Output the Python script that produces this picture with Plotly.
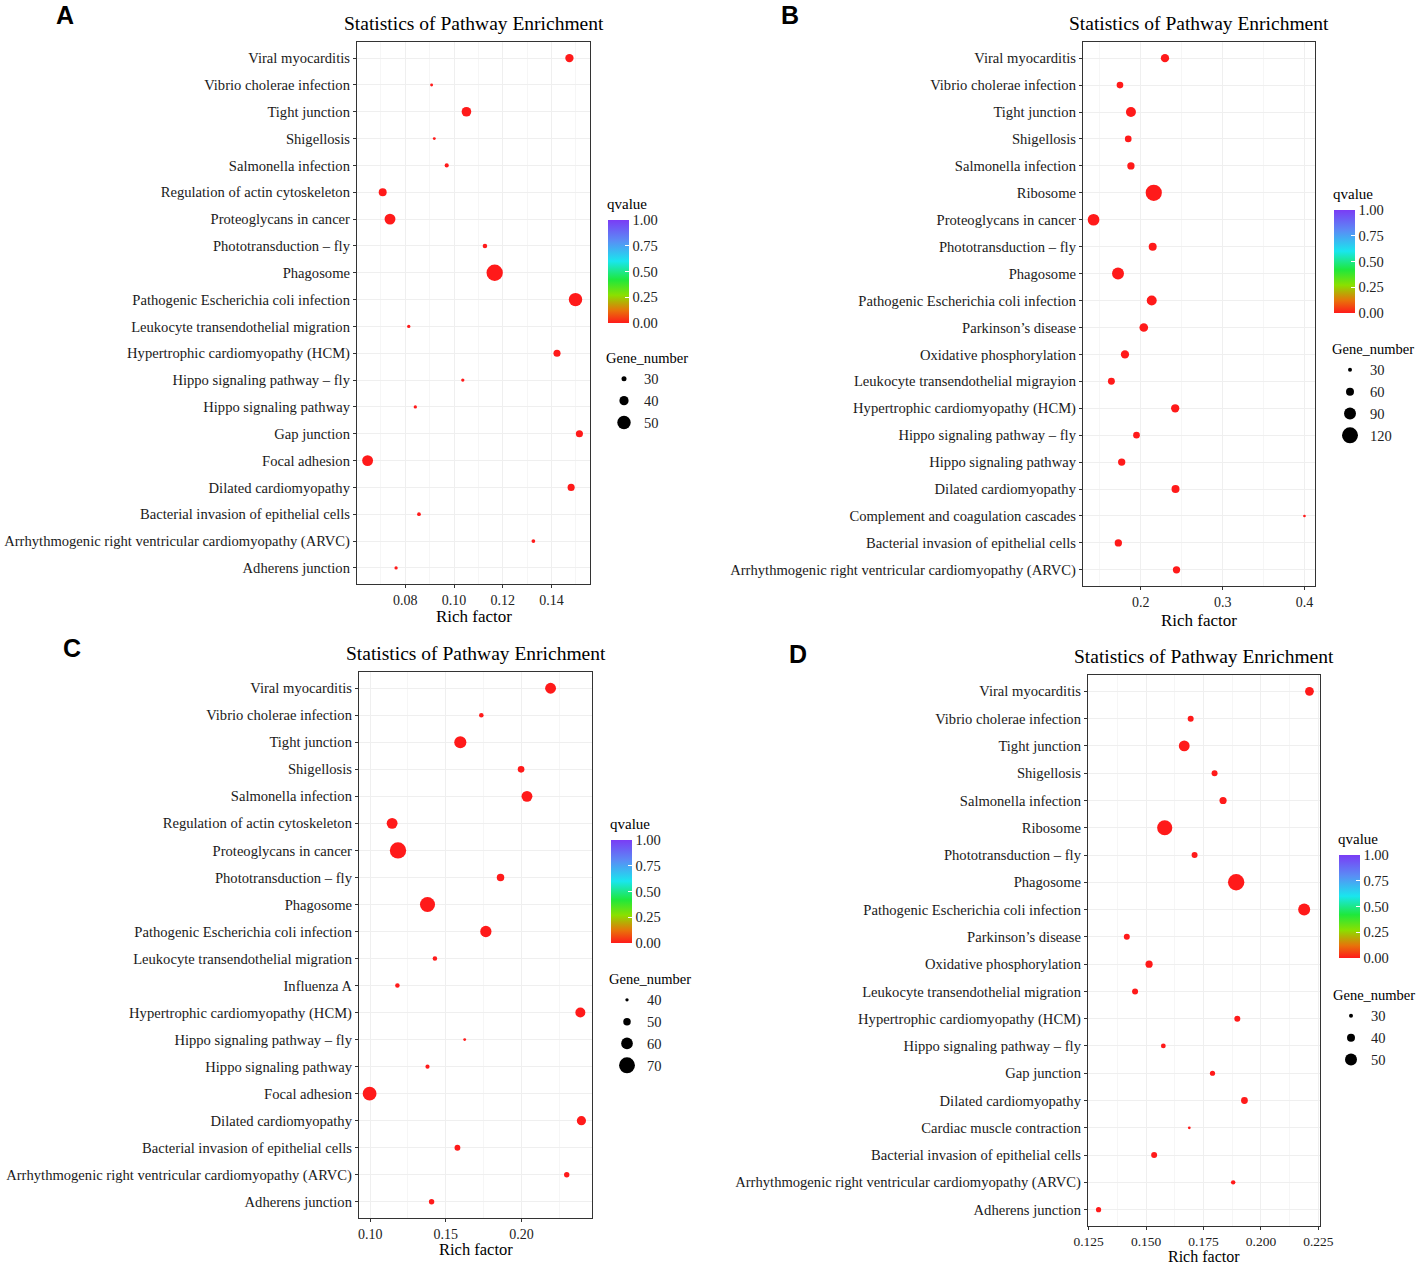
import plotly.graph_objects as go

W, H = 1417, 1262
FONT = "Liberation Serif"

# ---- panel A ----
a_pathway = ["Viral myocarditis", "Vibrio cholerae infection", "Tight junction", "Shigellosis",
             "Salmonella infection", "Regulation of actin cytoskeleton", "Proteoglycans in cancer",
             "Phototransduction \u2013 fly", "Phagosome", "Pathogenic Escherichia coli infection",
             "Leukocyte transendothelial migration", "Hypertrophic cardiomyopathy (HCM)",
             "Hippo signaling pathway \u2013 fly", "Hippo signaling pathway", "Gap junction",
             "Focal adhesion", "Dilated cardiomyopathy", "Bacterial invasion of epithelial cells",
             "Arrhythmogenic right ventricular cardiomyopathy (ARVC)", "Adherens junction"]
a_rich = [0.1474, 0.0908, 0.1051, 0.0919, 0.0970, 0.0707, 0.0737, 0.1127, 0.1167, 0.1499,
          0.0814, 0.1423, 0.1036, 0.0841, 0.1515, 0.0645, 0.1481, 0.0856, 0.1326, 0.0762]
a_genes = [38, 25, 41, 25, 28, 37, 44, 29, 57, 50, 26, 35, 26, 26, 35, 44, 35, 27, 27, 26]
a_q = [0.0] * 20
a_legend = [30, 40, 50]

# ---- panel B ----
b_pathway = ["Viral myocarditis", "Vibrio cholerae infection", "Tight junction", "Shigellosis",
             "Salmonella infection", "Ribosome", "Proteoglycans in cancer",
             "Phototransduction \u2013 fly", "Phagosome", "Pathogenic Escherichia coli infection",
             "Parkinson\u2019s disease", "Oxidative phosphorylation",
             "Leukocyte transendothelial migrayion", "Hypertrophic cardiomyopathy (HCM)",
             "Hippo signaling pathway \u2013 fly", "Hippo signaling pathway", "Dilated cardiomyopathy",
             "Complement and coagulation cascades", "Bacterial invasion of epithelial cells",
             "Arrhythmogenic right ventricular cardiomyopathy (ARVC)"]
b_rich = [0.2295, 0.1745, 0.1879, 0.1846, 0.1879, 0.2158, 0.1422, 0.2145, 0.1721, 0.2133,
          0.2036, 0.1806, 0.1640, 0.2420, 0.1947, 0.1766, 0.2424, 0.4000, 0.1725, 0.2436]
b_genes = [62, 50, 75, 50, 55, 122, 88, 60, 90, 75, 65, 62, 52, 62, 50, 55, 60, 20, 55, 55]
b_q = [0.0] * 20
b_legend = [30, 60, 90, 120]

# ---- panel C ----
c_pathway = ["Viral myocarditis", "Vibrio cholerae infection", "Tight junction", "Shigellosis",
             "Salmonella infection", "Regulation of actin cytoskeleton", "Proteoglycans in cancer",
             "Phototransduction \u2013 fly", "Phagosome", "Pathogenic Escherichia coli infection",
             "Leukocyte transendothelial migration", "Influenza A",
             "Hypertrophic cardiomyopathy (HCM)", "Hippo signaling pathway \u2013 fly",
             "Hippo signaling pathway", "Focal adhesion", "Dilated cardiomyopathy",
             "Bacterial invasion of epithelial cells",
             "Arrhythmogenic right ventricular cardiomyopathy (ARVC)", "Adherens junction"]
c_rich = [0.2193, 0.1735, 0.1596, 0.1998, 0.2037, 0.1145, 0.1184, 0.1862, 0.1379, 0.1765,
          0.1428, 0.1180, 0.2390, 0.1625, 0.1379, 0.0996, 0.2397, 0.1577, 0.2300, 0.1406]
c_genes = [58, 43, 61, 48, 58, 58, 71, 50, 68, 59, 43, 43, 56, 39, 42, 65, 54, 46, 45, 45]
c_q = [0.0] * 20
c_legend = [40, 50, 60, 70]

# ---- panel D ----
d_pathway = ["Viral myocarditis", "Vibrio cholerae infection", "Tight junction", "Shigellosis",
             "Salmonella infection", "Ribosome", "Phototransduction \u2013 fly", "Phagosome",
             "Pathogenic Escherichia coli infection", "Parkinson\u2019s disease",
             "Oxidative phosphorylation", "Leukocyte transendothelial migration",
             "Hypertrophic cardiomyopathy (HCM)", "Hippo signaling pathway \u2013 fly", "Gap junction",
             "Dilated cardiomyopathy", "Cardiac muscle contraction",
             "Bacterial invasion of epithelial cells",
             "Arrhythmogenic right ventricular cardiomyopathy (ARVC)", "Adherens junction"]
d_rich = [0.2211, 0.1694, 0.1666, 0.1798, 0.1835, 0.1581, 0.1711, 0.1892, 0.2188, 0.1416,
          0.1513, 0.1452, 0.1897, 0.1575, 0.1789, 0.1928, 0.1688, 0.1535, 0.1879, 0.1293]
d_genes = [42, 35, 47, 35, 38, 58, 35, 61, 50, 35, 38, 35, 35, 32, 33, 37, 27, 35, 31, 33]
d_q = [0.0] * 20
d_legend = [30, 40, 50]

QSCALE = [[0.0, "#ff1a1a"], [0.12, "#e8720a"], [0.27, "#8ae000"], [0.42, "#1ee83c"],
          [0.6, "#19e6ee"], [0.8, "#5a8cf5"], [1.0, "#7a3cf5"]]


def px_x(p):
    return p / W


def px_y(p):
    return 1 - p / H


# plot-area boxes in pixels (left, right, top, bottom), legend anchor, letter position
panels = [
    dict(letter="A", path=a_pathway, rich=a_rich, genes=a_genes, q=a_q, leg=a_legend,
         box=(357, 590, 42, 584), size=(5, 30, 0.42), dtick=0.02, fmt=".2f", t0=0.08,
         cb=(608, 220), gn=(604, 344), lpos=(65, 15), xt=616, xts=17, tks=14),
    dict(letter="B", path=b_pathway, rich=b_rich, genes=b_genes, q=b_q, leg=b_legend,
         box=(1083, 1315, 42, 586), size=(4, 30, 0.133), dtick=0.1, fmt=".1f", t0=0.2,
         cb=(1334, 210), gn=(1330, 335), lpos=(790, 15), xt=620, xts=17, tks=14),
    dict(letter="C", path=c_pathway, rich=c_rich, genes=c_genes, q=c_q, leg=c_legend,
         box=(359, 592, 672, 1218), size=(3.3, 40, 0.42), dtick=0.05, fmt=".2f", t0=0.10,
         cb=(611, 840), gn=(607, 965), lpos=(72, 648), xt=1249, xts=16.5, tks=14),
    dict(letter="D", path=d_pathway, rich=d_rich, genes=d_genes, q=d_q, leg=d_legend,
         box=(1088, 1320, 675, 1226), size=(4, 30, 0.4), dtick=0.025, fmt=".3f", t0=0.125,
         cb=(1339, 855), gn=(1331, 981), lpos=(798, 654), xt=1256, xts=16, tks=13.5),
]


def dia(v, s):
    d0, v0, k = s
    return max(2.4, d0 + k * (v - v0))


fig = go.Figure()
annotations = []
layout = {}

for i, p in enumerate(panels):
    n = "" if i == 0 else str(i + 1)
    xa, ya = "x" + n, "y" + n
    ca = "coloraxis" + n
    lg = "legend" + n
    l, r, t, b = p["box"]

    lo, hi = min(p["rich"]), max(p["rich"])
    pad = (hi - lo) * 0.05

    fig.add_trace(go.Scatter(
        x=p["rich"], y=p["path"], mode="markers", xaxis=xa, yaxis=ya, showlegend=False,
        marker=dict(size=[dia(g, p["size"]) for g in p["genes"]], sizemode="diameter",
                    color=p["q"], coloraxis=ca, line=dict(width=0), opacity=1),
        hovertemplate="%{y}<br>Rich factor %{x}<extra></extra>"))

    for g in p["leg"]:
        fig.add_trace(go.Scatter(
            x=[None], y=[None], mode="markers", xaxis=xa, yaxis=ya, name=str(g), legend=lg,
            marker=dict(size=dia(g, p["size"]), color="black", line=dict(width=0))))

    layout["xaxis" + n] = dict(
        domain=[px_x(l), px_x(r)], anchor=ya, range=[lo - pad, hi + pad], automargin=False,
        tick0=p["t0"], dtick=p["dtick"], tickformat=p["fmt"],
        showgrid=True, gridcolor="#efefef", gridwidth=1,
        minor=dict(showgrid=True, gridcolor="#f6f6f6", dtick=p["dtick"] / 2, tick0=p["t0"]),
        showline=True, linecolor="#333333", linewidth=1.2, mirror=True,
        ticks="outside", ticklen=3, tickcolor="#333333", zeroline=False,
        tickfont=dict(family=FONT, size=p["tks"], color="#222222"))
    layout["yaxis" + n] = dict(
        domain=[px_y(b), px_y(t)], anchor=xa, type="category", automargin=False,
        categoryorder="array", categoryarray=p["path"][::-1], range=[-0.6, 19.6],
        showgrid=True, gridcolor="#efefef", gridwidth=1,
        showline=True, linecolor="#333333", linewidth=1.2, mirror=True,
        ticks="outside", ticklen=3, tickcolor="#333333", zeroline=False,
        tickfont=dict(family=FONT, size=14.6, color="#1a1a1a"))

    # x-axis title
    annotations.append(dict(text="Rich factor", x=px_x((l + r) / 2), y=px_y(p["xt"]),
                            xref="paper", yref="paper", xanchor="center", yanchor="middle",
                            showarrow=False, font=dict(family=FONT, size=p["xts"], color="black")))

    cbx, cby = p["cb"]
    layout[ca] = dict(
        colorscale=QSCALE, cmin=0, cmax=1,
        colorbar=dict(x=px_x(cbx), xanchor="left", y=px_y(cby), yanchor="top",
                      len=103, lenmode="pixels", thickness=21, outlinewidth=0,
                      xpad=0, ypad=0,
                      tickvals=[0, 0.25, 0.5, 0.75, 1.0], tickformat=".2f",
                      ticks="inside", ticklen=4, tickcolor="white",
                      tickfont=dict(family=FONT, size=14.5, color="#222222")))
    annotations.append(dict(text="qvalue", x=px_x(cbx - 3), y=px_y(cby - 6), xref="paper",
                            yref="paper", xanchor="left", yanchor="bottom", showarrow=False,
                            font=dict(family=FONT, size=15, color="black")))

    gx, gy = p["gn"]
    layout[lg] = dict(
        x=px_x(gx), y=px_y(gy), xanchor="left", yanchor="top", itemsizing="trace",
        bgcolor="rgba(0,0,0,0)", tracegroupgap=0, itemwidth=30,
        title=dict(text="Gene_number", font=dict(family=FONT, size=14.5, color="black")),
        font=dict(family=FONT, size=14.5, color="#222222"))

    annotations.append(dict(text="Statistics of Pathway Enrichment", x=px_x((l + r) / 2),
                            y=px_y(t - 6), xref="paper", yref="paper", xanchor="center",
                            yanchor="bottom", showarrow=False,
                            font=dict(family=FONT, size=19.5, color="black")))
    lx, ly = p["lpos"]
    annotations.append(dict(text="<b>" + p["letter"] + "</b>", x=px_x(lx), y=px_y(ly),
                            xref="paper", yref="paper", xanchor="center", yanchor="middle",
                            showarrow=False, font=dict(family="Liberation Sans", size=25,
                                                       color="black")))

fig.update_layout(
    width=W, height=H, margin=dict(l=0, r=0, t=0, b=0, autoexpand=False),
    paper_bgcolor="white", plot_bgcolor="white",
    annotations=annotations, **layout)

# page body margin off so the figure sits at the window's top-left corner
fig.write_html("out.html", config={"displayModeBar": False},
               post_script="document.body.style.margin='0';")
